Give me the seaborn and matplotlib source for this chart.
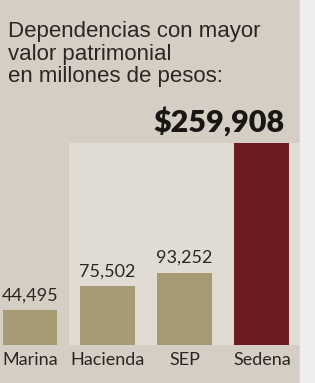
import matplotlib
matplotlib.use("Agg")
import matplotlib.pyplot as plt
import seaborn as sns
from matplotlib.patches import Rectangle

# Data
categories = ["Marina", "Hacienda", "SEP", "Sedena"]
values = [44495, 75502, 93252, 259908]
value_labels = ["44,495", "75,502", "93,252", "$259,908"]
bar_colors = ["#a69a72", "#a69a72", "#a69a72", "#6b1b21"]
# lighter full-height columns behind the bars
ghost_values = [0, 259908, 259908, 259908]

PAPER = "#d5cec5"
GHOST = "#e0dbd3"
INK = "#2b2622"

sns.set_theme(style="white")
plt.rcParams["font.family"] = ["Lato", "DejaVu Sans"]

W, H = 315, 383
fig = plt.figure(figsize=(W / 100, H / 100), dpi=100)
fig.patch.set_facecolor(PAPER)
# whiter strip on the right edge of the scan
fig.patches.append(Rectangle((300 / W, 0), 1, 1, transform=fig.transFigure,
                             color="#efeeec", zorder=0))

# axes covers the bar area: bottom at y=345px, Sedena top at y=143px
step = 77.3
ax = fig.add_axes([0, 38 / H, 1, 202 / H])
ax.set_facecolor("none")

sns.barplot(x=categories, y=ghost_values, color=GHOST, width=1.0,
            saturation=1, linewidth=0, ax=ax, zorder=1)
sns.barplot(x=categories, y=values, hue=categories, palette=bar_colors,
            width=0.71, saturation=1, linewidth=0, legend=False, ax=ax, zorder=2)

ax.set_xlim(-30 / step, (W - 30) / step)
ax.set_ylim(0, 259908)
sns.despine(ax=ax, left=True, bottom=True)
ax.set_yticks([])
ax.set_ylabel("")
ax.tick_params(axis="x", length=0, pad=5, labelsize=13, labelcolor=INK)

# value labels
for i, (v, lab) in enumerate(zip(values, value_labels)):
    if i == len(values) - 1:
        ax.annotate(lab, (i, v), xytext=(-31, 5), textcoords="offset points",
                    ha="center", va="bottom", fontsize=22, fontweight="heavy",
                    color="#1a1614", annotation_clip=False)
    else:
        ax.annotate(lab, (i, v), xytext=(0, 5), textcoords="offset points",
                    ha="center", va="bottom", fontsize=13, color=INK,
                    annotation_clip=False)

fig.text(8 / W, 1 - 21 / H,
         "Dependencias con mayor\nvalor patrimonial\nen millones de pesos:",
         ha="left", va="top", fontsize=16, color=INK, linespacing=1.1,
         family=["Liberation Sans", "DejaVu Sans"])

fig.savefig("out.png", dpi=100, facecolor=fig.get_facecolor())
